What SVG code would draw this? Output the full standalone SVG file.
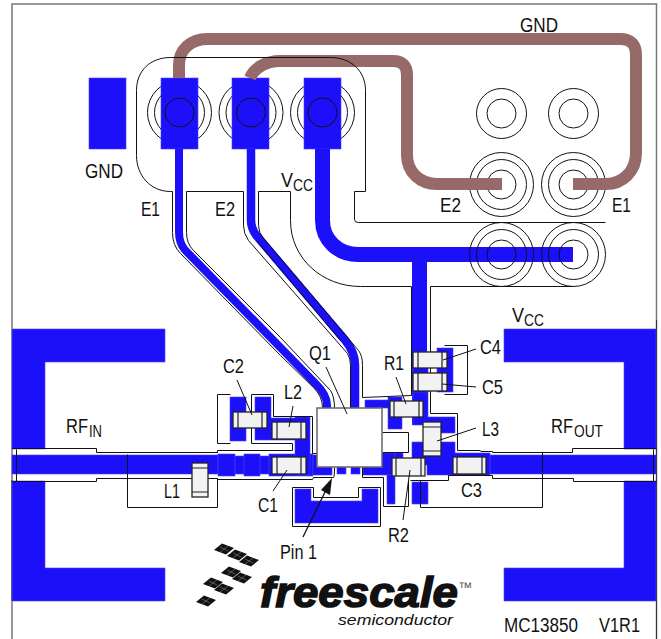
<svg xmlns="http://www.w3.org/2000/svg" width="661" height="639" viewBox="0 0 661 639">
<style>
.b{fill:#1c10fb;stroke:#4a40ff;stroke-width:.6}
.bt{fill:none;stroke:#1c10fb;stroke-linejoin:round}
.br{fill:none;stroke:#966a68;stroke-width:12;stroke-linejoin:round}
.o{fill:none;stroke:#111;stroke-width:1}
.og{fill:none;stroke:#777;stroke-width:1.2}
.c{fill:none;stroke:#111;stroke-width:1}
.p{fill:#f2f2f2;stroke:#222;stroke-width:1.3}
.pe{fill:none;stroke:#222;stroke-width:1.2}
.l{fill:none;stroke:#111;stroke-width:1}
text{font-family:"Liberation Sans",sans-serif;font-size:20px;fill:#111}
.s{font-size:17px}
</style>
<defs>
<g id="dia"><polygon points="-10,1 -2,-5.500 10,-1 2,5.500" fill="#111"/><path d="M-4,-2 L4,2 M-4,3 L4,-3" stroke="#999" stroke-width=".5" fill="none"/></g>
</defs>
<rect width="661" height="639" fill="#fff"/>
<path d="M12 639V4H656.500V639" fill="none" stroke="#777" stroke-width="1.500"/>
<path d="M656.500 320V639M12 480V601" fill="none" stroke="#333" stroke-width="1"/>

<g id="lower-rings" transform="translate(.5,.5)">
<circle class="c" cx="179" cy="112" r="32"/><circle class="c" cx="179" cy="112" r="25"/>
<circle class="c" cx="250.500" cy="112" r="32"/><circle class="c" cx="250.500" cy="112" r="25"/>
<circle class="c" cx="322" cy="112" r="32"/><circle class="c" cx="322" cy="112" r="25"/>
<circle class="c" cx="501" cy="113" r="25"/><circle class="c" cx="501" cy="113" r="14.500"/>
<circle class="c" cx="573" cy="113" r="25"/><circle class="c" cx="573" cy="113" r="14.500"/>
<circle class="c" cx="501" cy="184" r="32"/><circle class="c" cx="501" cy="184" r="25"/><circle class="c" cx="501" cy="184" r="14.500"/>
<circle class="c" cx="573" cy="184" r="32"/><circle class="c" cx="573" cy="184" r="25"/><circle class="c" cx="573" cy="184" r="14.500"/>
</g>

<g id="copper-blue">
<rect class="b" x="89" y="78" width="37" height="71"/>
<rect class="b" x="161" y="78" width="37" height="71"/>
<rect class="b" x="232" y="78" width="37" height="71"/>
<rect class="b" x="304" y="78" width="37" height="71"/>
<path class="bt" stroke-width="8" d="M179 149V232Q179 243 185 250L316 384Q327 395 327 405V408"/>
<path class="bt" stroke-width="8.500" d="M251 149V220Q251 228 256 235L345 340Q355 352 355 365V408"/>
<path class="bt" stroke-width="15" d="M322.500 149V220C322.500 240 338 254.500 358 254.500H573"/>
<path class="bt" stroke-width="15" d="M419.500 254V425"/>
<path class="b" d="M12 329H165V362H45V449H12Z"/>
<path class="b" d="M12 481H45V568H165V601H12Z"/>
<path class="b" d="M504 329H656V449H624V362H504Z"/>
<path class="b" d="M624 481H656V601H504V568H624Z"/>
<rect class="b" x="12" y="455" width="206" height="19"/>
<rect class="b" x="490" y="455" width="166" height="19"/>
<rect class="b" x="218" y="454" width="17" height="22"/>
<rect class="b" x="235" y="456" width="60" height="18"/>
<rect class="b" x="244" y="454" width="16" height="22"/>
<rect class="b" x="269" y="454" width="44" height="22"/>
<rect class="b" x="313" y="455" width="19" height="20"/>
<rect class="b" x="230" y="397" width="16" height="44"/>
<path class="b" d="M255 397H271V418H295V417H310V475H295V440H255Z"/>
<rect class="b" x="337" y="467" width="9" height="7"/>
<rect class="b" x="351" y="467" width="9" height="7"/>
<path class="b" d="M366 467H383V453H403V474H395V504H387V474H366Z"/>
<path class="b" d="M295 489H311V501H362V489H378V523H295Z"/>
<path class="b" d="M365 400H388V397H402V429H388V408H365Z"/>
<path class="b" d="M413 385H428V417H455V433H428V425H413Z"/>
<path class="b" d="M412 442H455V453H490V475H427V465H412Z"/>
<rect class="b" x="363" y="453" width="32" height="22"/>
<rect class="b" x="412" y="482" width="16" height="22"/>
<rect class="b" x="413" y="352" width="15" height="40"/>
<rect class="b" x="437" y="348" width="16" height="44"/>
<rect class="b" x="428" y="352" width="12" height="14"/>
<rect class="b" x="428" y="375" width="12" height="14"/>
</g>

<g id="copper-brown">
<path class="br" d="M179 78V65C179 50 190 39 208 39H620Q636 39 636 55V153C636 172 622 184 606 184H573"/>
<path class="br" d="M250 78C254 68 266 61 280 61H393Q407 61 407 75V155C407 172 420 184 437 184H502"/>
</g>

<g id="upper-rings" transform="translate(.5,.5)">
<circle class="c" cx="179" cy="112" r="14.500"/>
<circle class="c" cx="250.500" cy="112" r="14.500"/>
<circle class="c" cx="322" cy="112" r="14.500"/>
<circle class="c" cx="501" cy="254" r="32"/><circle class="c" cx="501" cy="254" r="25"/><circle class="c" cx="501" cy="254" r="14.500"/>
<circle class="c" cx="573" cy="254" r="32"/><circle class="c" cx="573" cy="254" r="25"/><circle class="c" cx="573" cy="254" r="14.500"/>
</g>

<g id="outlines" transform="translate(.5,.5)">
<path class="o" d="M172 191H170C150 191 136 175 136 155V90C136 70 150 57 170 57H330C350 57 365 70 365 90V191H354V219Q354 222 358 222H605"/>
<path class="o" d="M172 191V232Q172 245 180 253L280 355L313 387Q322 396 322 407"/>
<path class="o" d="M186 191H243V225Q243 233 248 240L347 353Q350 358 350 365V408"/>
<path class="o" d="M186 191V232Q186 243 193 250L280 337L330 390Q334 396 334 408"/>
<path class="o" d="M258 191H290V220C290 258 322 286 360 286H411V395L362 397V365Q362 355 358 350L263 238Q258 232 258 225V191"/>
<path class="o" d="M256 240L340 340" stroke-width=".8"/>
<path class="o" d="M430 286H573"/>
<path class="o" d="M430 286V413H457V450H480"/>
<path class="o" d="M480 451H492V452H572V448H656"/>
<path class="o" d="M410 480H448V475H492V478H573V481H656"/>
<path class="o" d="M653 449V481M16 449V481"/>
<path class="o" d="M420 480V507H542V452"/>
<path class="o" d="M12 448H96V452H217V450H292V443H251V394H273V416H312V453H317"/>
<path class="o" d="M12 481H96V478H217V479H312L313 477H333Q334 477 334 467"/>
<path class="o" d="M230 394H217V443H230"/>
<path class="o" d="M127 454V507H217V478"/>
<path class="o" d="M292 487H313V497H358V487H380V526H292Z"/>
<path class="o" d="M362 467V477H383V506H408V480"/>
<path class="o" d="M444 345H467V394H444"/>
<path class="o" d="M382 432H408V452H382"/>
</g>

<g id="Q1"><rect x="317" y="408" width="65" height="59" fill="#fff" stroke="#666" stroke-width="1.500"/></g>

<g id="comp-C2"><rect class="p" x="233" y="412" width="34" height="16"/><path class="pe" d="M238 412V428M262 412V428"/></g>
<g id="comp-L2"><rect class="p" x="272" y="422" width="34" height="17"/><path class="pe" d="M277 422V439M301 422V439"/></g>
<g id="comp-C1"><rect class="p" x="272" y="457" width="34" height="17"/><path class="pe" d="M277 457V474M301 457V474"/></g>
<g id="comp-L1"><rect class="p" x="192" y="463" width="16" height="34"/><path class="pe" d="M192 468H208M192 492H208"/></g>
<g id="comp-R1"><rect class="p" x="390" y="401" width="33" height="16"/><path class="pe" d="M394 401V417M419 401V417"/></g>
<g id="comp-R2"><rect class="p" x="392" y="458" width="33" height="18"/><path class="pe" d="M396 458V476M421 458V476"/></g>
<g id="comp-L3"><rect class="p" x="423" y="422" width="18" height="34"/><path class="pe" d="M423 427H441M423 451H441"/></g>
<g id="comp-C3"><rect class="p" x="453" y="457" width="33" height="17"/><path class="pe" d="M457 457V474M482 457V474"/></g>
<g id="comp-C4"><rect class="p" x="413" y="352" width="34" height="16"/><path class="pe" d="M418 352V368M442 352V368"/></g>
<g id="comp-C5"><rect class="p" x="413" y="373" width="34" height="18"/><path class="pe" d="M418 373V391M442 373V391"/></g>

<g id="connectors">
<path class="l" d="M237 380L252 415"/>
<path class="l" d="M293 406L289 427"/>
<path class="l" d="M287 470L273 491"/>
<path class="l" d="M476 428L437 441"/>
<path class="l" d="M476 349L443 360"/>
<path class="l" d="M476 387L442 384"/>
<path class="l" d="M396 377L406 404"/>
<path class="l" d="M410 470L403 520"/>
<path class="l" d="M326 367L347 414"/>
<path d="M303 537L326 490" fill="none" stroke="#111" stroke-width="1.300"/>
<polygon points="332,478 330,495 321,490" fill="#111"/>
</g>

<g id="labels">
<text x="85" y="178" textLength="38" lengthAdjust="spacingAndGlyphs">GND</text>
<text x="520" y="32" textLength="38" lengthAdjust="spacingAndGlyphs">GND</text>
<text x="141" y="216" textLength="19" lengthAdjust="spacingAndGlyphs">E1</text>
<text x="215" y="216" textLength="20" lengthAdjust="spacingAndGlyphs">E2</text>
<text x="440" y="212" textLength="21" lengthAdjust="spacingAndGlyphs">E2</text>
<text x="612" y="212" textLength="19" lengthAdjust="spacingAndGlyphs">E1</text>
<text x="281" y="187" textLength="12" lengthAdjust="spacingAndGlyphs">V</text><text class="s" x="293" y="191" textLength="20" lengthAdjust="spacingAndGlyphs">CC</text>
<text x="512" y="322" textLength="12" lengthAdjust="spacingAndGlyphs">V</text><text class="s" x="524" y="326" textLength="20" lengthAdjust="spacingAndGlyphs">CC</text>
<text x="480" y="354" textLength="21" lengthAdjust="spacingAndGlyphs">C4</text>
<text x="482" y="394" textLength="21" lengthAdjust="spacingAndGlyphs">C5</text>
<text x="482" y="436" textLength="17" lengthAdjust="spacingAndGlyphs">L3</text>
<text x="461" y="497" textLength="21" lengthAdjust="spacingAndGlyphs">C3</text>
<text x="384" y="370" textLength="20" lengthAdjust="spacingAndGlyphs">R1</text>
<text x="388" y="542" textLength="21" lengthAdjust="spacingAndGlyphs">R2</text>
<text x="309" y="360" textLength="22" lengthAdjust="spacingAndGlyphs">Q1</text>
<text x="284" y="399" textLength="18" lengthAdjust="spacingAndGlyphs">L2</text>
<text x="223" y="373" textLength="21" lengthAdjust="spacingAndGlyphs">C2</text>
<text x="258" y="512" textLength="20" lengthAdjust="spacingAndGlyphs">C1</text>
<text x="164" y="498" textLength="16" lengthAdjust="spacingAndGlyphs">L1</text>
<text x="66" y="433" textLength="22" lengthAdjust="spacingAndGlyphs">RF</text><text class="s" x="89" y="437" textLength="13" lengthAdjust="spacingAndGlyphs">IN</text>
<text x="551" y="433" textLength="22" lengthAdjust="spacingAndGlyphs">RF</text><text class="s" x="574" y="437" textLength="29" lengthAdjust="spacingAndGlyphs">OUT</text>
<text x="280" y="559" textLength="37" lengthAdjust="spacingAndGlyphs">Pin 1</text>
<text x="504" y="632" textLength="74" lengthAdjust="spacingAndGlyphs">MC13850</text>
<text x="599" y="632" textLength="41" lengthAdjust="spacingAndGlyphs">V1R1</text>
</g>

<g id="logo">
<use href="#dia" x="224" y="549"/><use href="#dia" x="237" y="555"/><use href="#dia" x="249" y="561"/>
<use href="#dia" x="231" y="572"/><use href="#dia" x="213" y="583"/><use href="#dia" x="242" y="578"/>
<use href="#dia" x="224" y="589"/><use href="#dia" x="206" y="601"/>
<text x="260" y="607" textLength="198" lengthAdjust="spacingAndGlyphs" style="font-size:43px;font-weight:bold;font-style:italic;stroke:#111;stroke-width:1.500">freescale</text>
<text x="338" y="625" textLength="115" lengthAdjust="spacingAndGlyphs" style="font-size:14px;font-style:italic">semiconductor</text>
<text x="458" y="592" style="font-size:14px;fill:#555">™</text>
</g>
</svg>
